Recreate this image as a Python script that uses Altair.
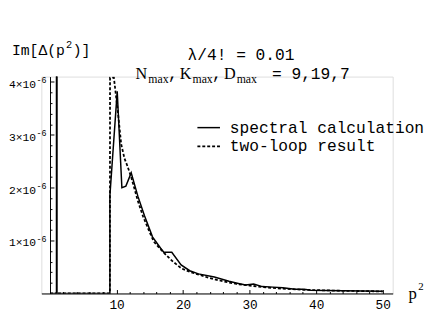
import altair as alt
import pandas as pd

# ---- data (values of Im[Delta(p^2)] in units of 1e-6) ----
spectral_p = [0, 1, 1, 1, 9, 9, 10.1, 10.8, 11.4, 12.2, 13.2, 14.2, 15.4, 16.6, 17.1,
              18.3, 19.7, 21.0, 22.3, 24.7, 26.9, 28.3, 29.4, 30.6, 31.9, 33.5, 35.0,
              36.8, 38.2, 39.2, 41.5, 44.0, 47.0, 50.0]
spectral_v = [0, 0, 6.0, 0, 0, 1.85, 3.82, 2.0, 2.03, 2.28, 1.84, 1.47, 1.07, 0.86, 0.78,
              0.78, 0.54, 0.43, 0.37, 0.31, 0.23, 0.19, 0.16, 0.18, 0.13, 0.12, 0.11,
              0.08, 0.08, 0.06, 0.055, 0.05, 0.045, 0.04]

twoloop_p = [0, 1, 1, 1, 9, 9.02, 9.6, 10.2, 10.7, 11.2, 11.6, 12.2, 13.2, 14.0, 15.0,
             15.6, 16.5, 17.5, 18.5, 19.8, 21.0, 22.5, 24.0, 26.0, 28.0, 30.0, 32.0,
             35.0, 38.0, 41.0, 44.0, 47.0, 50.0]
twoloop_v = [0, 0, 6.0, 0, 0, 4.08, 4.08, 3.43, 2.82, 2.55, 2.42, 2.2, 1.75, 1.45, 1.15,
             0.98, 0.85, 0.72, 0.6, 0.47, 0.41, 0.35, 0.29, 0.23, 0.18, 0.15, 0.12,
             0.09, 0.07, 0.06, 0.05, 0.045, 0.04]

x_major = [10, 20, 30, 40, 50]
x_minor = [v for v in range(2, 51, 2)]
y_major = [1, 2, 3, 4]
y_minor = [round(0.2 * k, 1) for k in range(1, 21)]

W, H = 358, 221
XDOM = [-1.3, 51.5]
YDOM = [0, 4.1]
x0px = (0 - XDOM[0]) / (XDOM[1] - XDOM[0]) * W

MONO = "Liberation Mono"
SERIF = "Liberation Serif"

df_s = pd.DataFrame({"p": spectral_p, "v": spectral_v, "i": range(len(spectral_p))})
df_t = pd.DataFrame({"p": twoloop_p, "v": twoloop_v, "i": range(len(twoloop_p))})

xs = alt.Scale(domain=XDOM, nice=False, zero=False)
ys = alt.Scale(domain=YDOM, nice=False, zero=False)

ytick_size = {"condition": {"test": "abs(datum.value - round(datum.value)) < 0.01", "value": 4}, "value": 2}
xtick_size = {"condition": {"test": "datum.value % 10 === 0", "value": 4}, "value": 2}

spectral = alt.Chart(df_s).mark_line(color="black", strokeWidth=1.5, clip=True).encode(
    x=alt.X("p:Q", scale=xs, axis=alt.Axis(values=x_major, ticks=False, title=None, grid=False,
                                          labelFont=MONO, labelFontSize=13, labelColor="black",
                                          labelPadding=5, labelFlush=False,
                                          domainColor="black", domainWidth=1)),
    y=alt.Y("v:Q", scale=ys, axis=alt.Axis(orient="right", offset=-(W - x0px), values=y_minor,
                                          labels=False, title=None, grid=False,
                                          tickSize=ytick_size, tickColor="black",
                                          domainColor="black", domainWidth=1)),
    order="i:Q",
)

twoloop = alt.Chart(df_t).mark_line(color="black", strokeWidth=1.8, strokeDash=[3, 2], clip=True).encode(
    x=alt.X("p:Q", scale=xs, axis=alt.Axis(orient="top", offset=-H, values=x_minor, labels=False,
                                          domain=False, title=None, grid=False,
                                          tickSize=xtick_size, tickColor="black")),
    y=alt.Y("v:Q", scale=ys, axis=None),
    order="i:Q",
)

# y tick labels  "n×10^-6"
df_yl = pd.DataFrame({"v": y_major, "t": [f"{n}×10" for n in y_major]})
ylab = alt.Chart(df_yl).mark_text(font=MONO, fontSize=11.5, align="right", baseline="middle",
                                  dy=3, color="black").encode(
    x=alt.value(-5.5), y=alt.Y("v:Q", scale=ys, axis=None), text="t:N")
ysup = alt.Chart(df_yl).mark_text(font=MONO, fontSize=8.5, align="left", baseline="middle",
                                  dy=-2, color="black").encode(
    x=alt.value(-5), y=alt.Y("v:Q", scale=ys, axis=None), text=alt.value("-6"))

OX, OY = 42, 75  # page position of plot origin

def T(s, px, py, font=MONO, size=16.5, align="left"):
    return alt.Chart(pd.DataFrame({"t": [s]})).mark_text(
        font=font, fontSize=size, fontWeight="normal", align=align, baseline="middle", color="black"
    ).encode(x=alt.value(px - OX), y=alt.value(py - OY), text="t:N")

texts = [
    T("Im[Δ(p", 12, 48, size=15),
    T("2", 67, 43, size=10.5),
    T(")]", 74, 48, size=15),
    T("λ/4! = 0.01", 191, 53),
    T("N", 138, 72, font=SERIF, size=16.5),
    T("max", 151, 78, font=SERIF, size=12),
    T(",", 171, 72),
    T("K", 183, 72, font=SERIF, size=16.5),
    T("max", 196, 78, font=SERIF, size=12),
    T(",", 216, 72),
    T("D", 228, 72, font=SERIF, size=16.5),
    T("max", 241, 78, font=SERIF, size=12),
    T("= 9,19,7", 277, 72),
    T("spectral calculation", 234, 127),
    T("two-loop result", 234, 146),
    T("p", 416, 297, font=SERIF, size=17),
    T("2", 426, 289, font=SERIF, size=11),
]

leg_solid = alt.Chart(pd.DataFrame({"a": [0]})).mark_rule(color="black", strokeWidth=1.5).encode(
    x=alt.value(201 - OX), x2=alt.value(224 - OX), y=alt.value(127 - OY))
leg_dot = alt.Chart(pd.DataFrame({"a": [0]})).mark_rule(color="black", strokeWidth=1.8, strokeDash=[3, 2]).encode(
    x=alt.value(201 - OX), x2=alt.value(224 - OX), y=alt.value(146 - OY))

chart = alt.layer(spectral, twoloop, ylab, ysup, leg_solid, leg_dot, *texts).resolve_axis(
    x="independent", y="independent"
).properties(
    width=W, height=H,
    autosize=alt.AutoSizeParams(type="none"),
    padding={"left": 34, "top": 67, "right": 37, "bottom": 17},
).configure_view(stroke=None).configure(background="white")

chart.save("out.html", embed_options={"renderer": "svg", "actions": False})
